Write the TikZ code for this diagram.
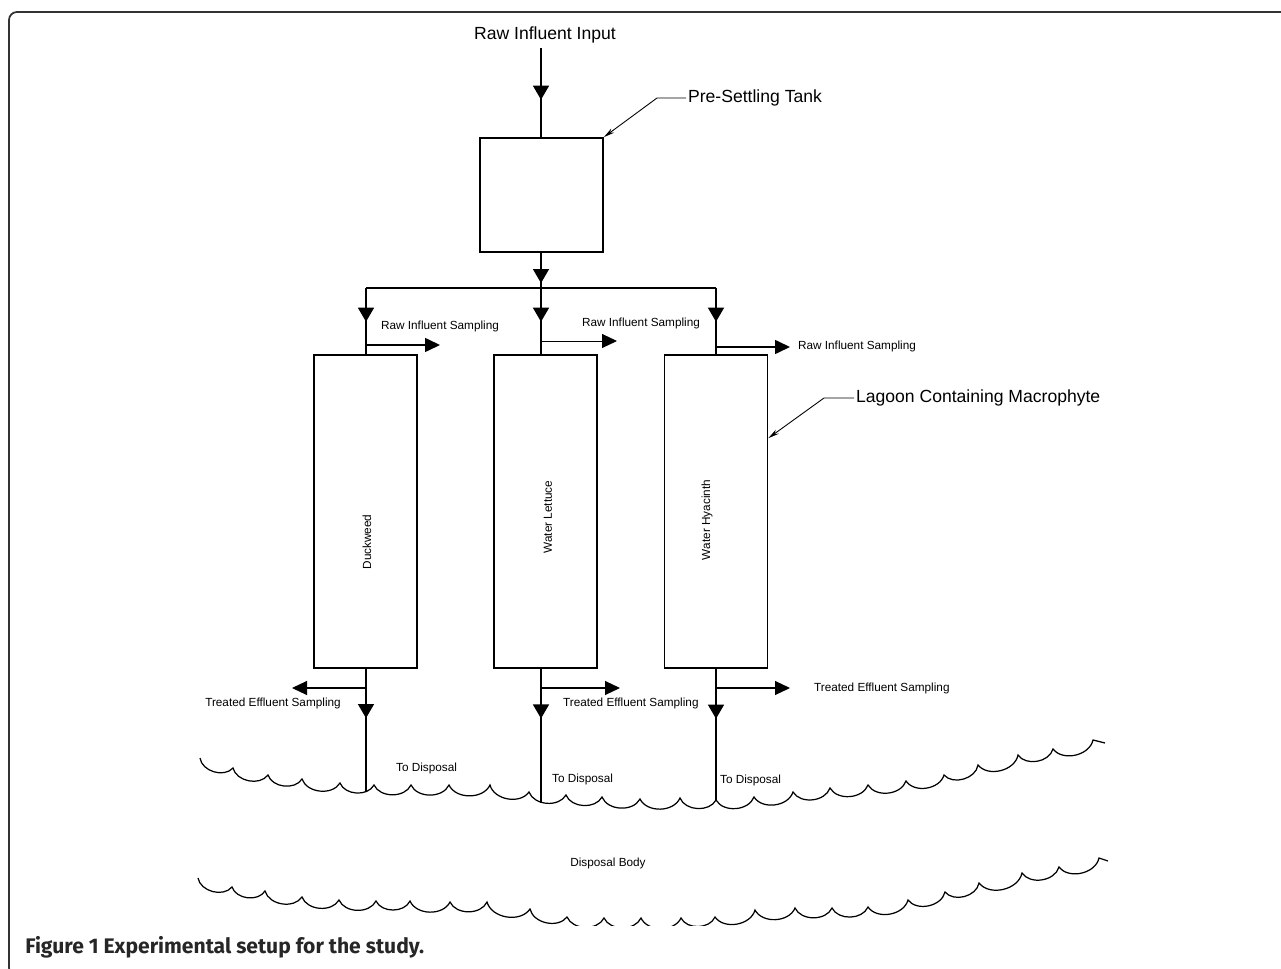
\documentclass[tikz,border=0pt]{standalone}
\usepackage{fontspec}
\setmainfont{Liberation Sans}
\newfontfamily\capfont{Fira Sans}
\usetikzlibrary{positioning, arrows.meta, calc, decorations.markings}

\begin{document}
\begin{tikzpicture}[
    x=0.02cm, y=-0.02cm,
    >=Stealth,
    tank/.style={draw, line width=1pt, minimum width=2.46cm,
                 minimum height=2.28cm, inner sep=0pt},
    lagoon/.style={draw, line width=1pt, minimum width=2.06cm,
                   minimum height=6.26cm, inner sep=0pt},
    biglbl/.style={font=\fontsize{10}{12}\selectfont, inner sep=1pt},
    smlbl/.style={font=\fontsize{6.7}{8}\selectfont, inner sep=1pt},
    plantlbl/.style={font=\fontsize{6.7}{8}\selectfont, rotate=90, inner sep=1pt},
    pipe/.style={line width=0.7pt},
    flow/.style={pipe, postaction={decorate},
                 decoration={markings, mark=at position #1 with
                 {\arrow{Triangle[width=0.32cm, length=0.28cm]}}}},
    samp/.style={-{Triangle[width=0.28cm, length=0.3cm]}, line width=0.9pt},
    leader/.style={-{Stealth[width=0.1cm, length=0.22cm]}, line width=0.5pt},
    wave/.style={line width=0.7pt},
    sc/.style={bend right=65},
]
\useasboundingbox (0,0) rectangle (1281,969);

% ══════════════════════════════════════
%  FRAME + CAPTION
% ══════════════════════════════════════
\begin{scope}
\clip (0,0) rectangle (1281,969);
\draw[line width=1pt, black!80, rounded corners=0.16cm] (9,12) rectangle (1300,976);
\end{scope}

\node[anchor=base west, inner sep=0pt, text=black!85,
      font=\capfont\bfseries\fontsize{12}{14}\selectfont] (caption) at (25,953)
    {Figure 1 Experimental setup for the study.};

% ══════════════════════════════════════
%  INFLUENT + PRE-SETTLING TANK
% ══════════════════════════════════════

\node[biglbl] (rawin) at (545,35) {Raw Influent Input};
\coordinate (intop) at (541,48);

\node[tank] (tank) at (541.5,195) {};
\node[biglbl, anchor=west] (tanklbl) at (686,98) {Pre-Settling Tank};

\coordinate (split) at (541,288);
\coordinate (hl) at (366,288);
\coordinate (hr) at (716,288);

% ══════════════════════════════════════
%  LAGOONS
% ══════════════════════════════════════

\node[lagoon] (duck) at (365.5,511.5) {};
\node[lagoon] (lettuce) at (545.5,511.5) {};
\node[lagoon] (hyacinth) at (716,511.5) {};

\node[plantlbl] (duckname) at (367,542) {Duckweed};
\node[plantlbl] (lettucename) at (548,517) {Water Lettuce};
\node[plantlbl] (hyacinthname) at (707,520) {Water Hyacinth};

\node[biglbl, anchor=west] (lagoonlbl) at (854,398) {Lagoon Containing Macrophyte};

% Raw influent sampling
\node[smlbl] (rawsamp1) at (440,326) {Raw Influent Sampling};
\node[smlbl] (rawsamp2) at (641,323) {Raw Influent Sampling};
\node[smlbl, anchor=west] (rawsamp3) at (796,346) {Raw Influent Sampling};

\coordinate (rs1) at (366,345);  \coordinate (rs1e) at (440,345);
\coordinate (rs2) at (541,341);  \coordinate (rs2e) at (617,341);
\coordinate (rs3) at (716,347);  \coordinate (rs3e) at (790,347);

% Treated effluent sampling
\node[smlbl] (trtsamp1) at (273,703) {Treated Effluent Sampling};
\node[smlbl, anchor=west] (trtsamp2) at (561,703) {Treated Effluent Sampling};
\node[smlbl, anchor=west] (trtsamp3) at (812,688) {Treated Effluent Sampling};

\coordinate (ts1) at (366,688);  \coordinate (ts1e) at (292,688);
\coordinate (ts2) at (541,688);  \coordinate (ts2e) at (620,688);
\coordinate (ts3) at (716,688);  \coordinate (ts3e) at (790,688);

% Outlets
\coordinate (out1) at (366,792);
\coordinate (out2) at (541,803);
\coordinate (out3) at (716,800);

\node[smlbl, anchor=west] (disp1) at (394,768) {To Disposal};
\node[smlbl, anchor=west] (disp2) at (550,779) {To Disposal};
\node[smlbl, anchor=west] (disp3) at (718,780) {To Disposal};

\node[smlbl] (body) at (608,863) {Disposal Body};

% ══════════════════════════════════════
%  WATER SURFACES
% ══════════════════════════════════════

\draw[wave] (200,758) to[sc] (233,768) to[sc] (268,775) to[sc] (302,779)
    to[sc] (340,783) to[sc] (374,785) to[sc] (411,785) to[sc] (449,785)
    to[sc] (490,785) to[sc] (529,792) to[sc] (566,795) to[sc] (602,797)
    to[sc] (640,799) to[sc] (680,798) to[sc] (716,800) to[sc] (754,797)
    to[sc] (793,792) to[sc] (830,788) to[sc] (868,785) to[sc] (906,781)
    to[sc] (944,775) to[sc] (978,765) to[sc] (1018,755) to[sc] (1053,749)
    to[sc] (1093,740) -- (1105,743);

\begin{scope}
\clip (0,0) rectangle (1281,925);
\draw[wave] (198,878) to[sc] (232,887) to[sc] (265,891) to[sc] (302,897)
    to[sc] (339,900) to[sc] (376,901) to[sc] (410,901) to[sc] (450,902)
    to[sc] (487,902) to[sc] (530,909) to[sc] (567,917) to[sc] (604,918)
    to[sc] (641,918) to[sc] (681,918) to[sc] (715,917) to[sc] (755,910)
    to[sc] (795,908) to[sc] (832,908) to[sc] (868,907) to[sc] (908,900)
    to[sc] (945,892) to[sc] (979,883) to[sc] (1022,873) to[sc] (1059,867)
    to[sc] (1099,858) -- (1108,861);
\end{scope}

% ══════════════════════════════════════
%  ARROWS
% ══════════════════════════════════════

% Influent to tank, tank to header
\draw[flow=0.58] (intop) -- (tank.north -| intop);
\draw[flow=0.86] (tank.south -| split) -- (split);
\draw[pipe] (hl) -- (hr);

% Header to lagoons
\draw[flow=0.51] (hl) -- (hl |- duck.north);
\draw[flow=0.51] (split) -- (split |- lettuce.north);
\draw[flow=0.51] (hr) -- (hr |- hyacinth.north);

% Raw influent sampling
\draw[samp] (rs1) -- (rs1e);
\draw[samp, line width=0.5pt] (rs2) -- (rs2e);
\draw[samp] (rs3) -- (rs3e);

% Lagoons to disposal
\draw[flow=0.40] (out1 |- duck.south) -- (out1);
\draw[flow=0.37] (out2 |- lettuce.south) -- (out2);
\draw[flow=0.38] (out3 |- hyacinth.south) -- (out3);

% Treated effluent sampling
\draw[samp, line width=0.6pt] (ts1) -- (ts1e);
\draw[samp, line width=0.6pt] (ts2) -- (ts2e);
\draw[samp, line width=0.6pt] (ts3) -- (ts3e);

% Leaders
\draw[leader] (tanklbl.west) -- ++(-29,0) -- (tank.north east);
\draw[leader] (lagoonlbl.west) -- ++(-30,0) -- ($(hyacinth.north east)+(0,84)$);

\end{tikzpicture}
\end{document}
